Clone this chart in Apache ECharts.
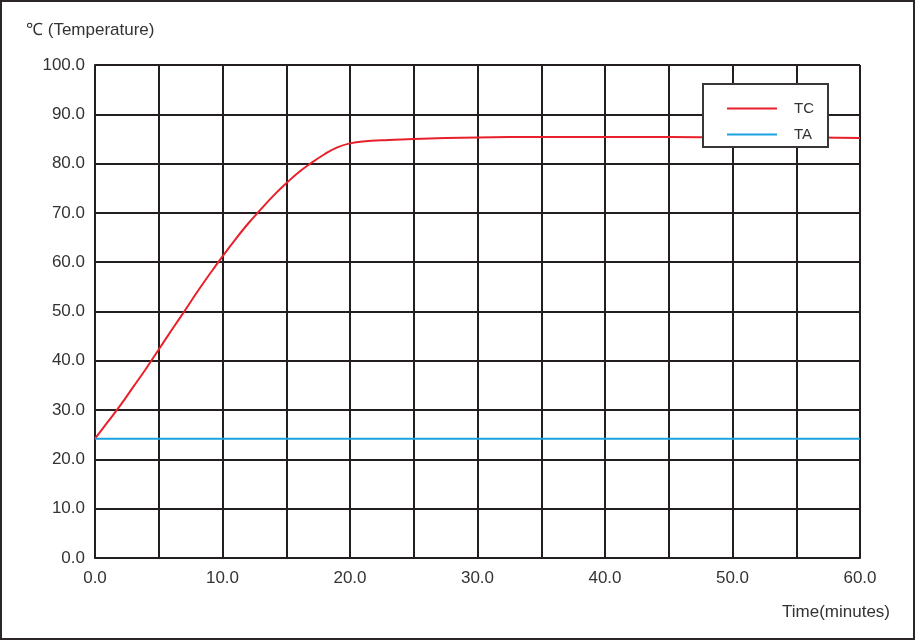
<!DOCTYPE html>
<html>
<head>
<meta charset="utf-8">
<script src="https://cdn.jsdelivr.net/npm/echarts@6/dist/echarts.min.js"></script>
<style>
html,body{margin:0;padding:0;background:#fff;}
#frame{width:911px;height:636px;border:2px solid #2b2727;}
#chart{width:911px;height:636px;}
</style>
</head>
<body>
<div id="frame"><div id="chart"></div></div>
<script>
// time in minutes
var tcTime = [0, 1, 2, 3, 4, 5, 6, 7, 8, 9, 10, 11, 12, 13, 14, 15, 16, 17, 18, 19, 20, 21, 23, 25, 30, 35, 40, 45, 50, 55, 60];
var tcTemp = [24.2, 27.6, 31.0, 34.7, 38.4, 42.3, 46.2, 50.0, 53.9, 57.6, 61.2, 64.6, 67.8, 70.7, 73.5, 76.0, 78.3, 80.2, 81.9, 83.3, 84.1, 84.5, 84.8, 85.0, 85.3, 85.4, 85.4, 85.4, 85.3, 85.3, 85.2];
var taTime = [0, 60];
var taTemp = [24.2, 24.2];

function pairs(xs, ys) {
    var res = [];
    for (var i = 0; i < xs.length; i++) res.push([xs[i], ys[i]]);
    return res;
}

var gridColor = '#231f20';
var font = 'Arial, Liberation Sans';
var chart = echarts.init(document.getElementById('chart'));
var option = {
    animation: false,
    grid: {left: 93, right: 53, top: 63, bottom: 80},
    xAxis: {
        type: 'value', min: 0, max: 60, interval: 5,
        axisLine: {show: true, lineStyle: {color: gridColor, width: 2}},
        axisTick: {show: false},
        splitLine: {show: true, lineStyle: {color: gridColor, width: 2}},
        axisLabel: {
            color: '#333', fontSize: 17, fontFamily: font, margin: 12,
            formatter: function (v) { return v % 10 === 0 ? v.toFixed(1) : ''; }
        }
    },
    yAxis: {
        type: 'value', min: 0, max: 100, interval: 10,
        axisLine: {show: true, lineStyle: {color: gridColor, width: 2}},
        axisTick: {show: false},
        splitLine: {show: true, lineStyle: {color: gridColor, width: 2}},
        axisLabel: {
            color: '#333', fontSize: 17, fontFamily: font, margin: 10,
            formatter: function (v) { return v.toFixed(1); }
        }
    },
    legend: {
        orient: 'vertical', left: 720, top: 94, itemGap: 11, z: 100,
        icon: 'rect', itemWidth: 50, itemHeight: 2,
        textStyle: {color: '#333', fontSize: 15, fontFamily: font, padding: [0, 0, 0, 12]},
        data: ['TC', 'TA']
    },
    graphic: [
        {type: 'rect', left: 700, top: 81, z: 90,
         shape: {width: 125, height: 63},
         style: {fill: '#fff', stroke: '#3a3636', lineWidth: 2}},
        {type: 'text', left: 24, top: 20,
         style: {text: '℃ (Temperature)', fill: '#333', fontSize: 17, fontFamily: font}},
        {type: 'text', left: 780, top: 602,
         style: {text: 'Time(minutes)', fill: '#333', fontSize: 17, fontFamily: font}}
    ],
    series: [
        {name: 'TC', type: 'line', data: pairs(tcTime, tcTemp), smooth: 0.4, showSymbol: false,
         lineStyle: {color: '#e8202a', width: 2}, itemStyle: {color: '#e8202a'}, z: 5},
        {name: 'TA', type: 'line', data: pairs(taTime, taTemp), showSymbol: false,
         lineStyle: {color: '#1aa3e0', width: 2}, itemStyle: {color: '#1aa3e0'}, z: 5}
    ]
};
chart.setOption(option);
</script>
</body>
</html>
